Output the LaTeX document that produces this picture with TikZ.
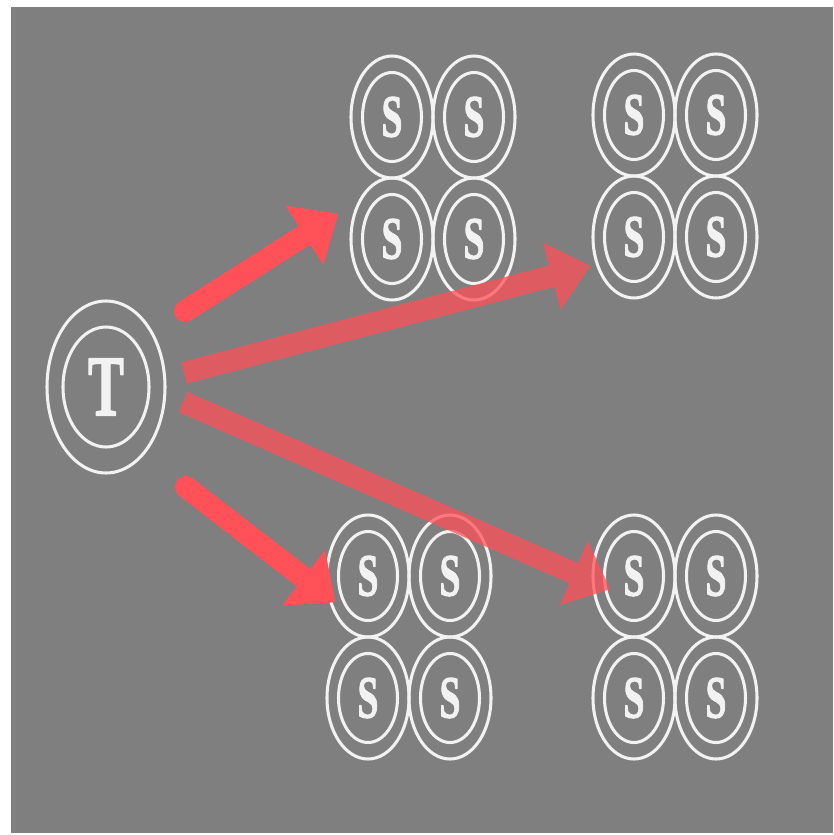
\documentclass[tikz,border=0pt]{standalone}
\usepackage{fontspec}
\setmainfont{Liberation Serif}
\newfontfamily\heavy{Liberation Serif Bold}[FakeBold=2]
\usetikzlibrary{arrows.meta,shapes.geometric}
\definecolor{board}{HTML}{7F7F7F}
\definecolor{ring}{HTML}{F2F2F2}
\definecolor{pointer}{HTML}{FF5157}
\newcommand\tall[1]{\scalebox{1}[1.6]{#1}}

\begin{document}
\begin{tikzpicture}[
  x=0.03cm, y=-0.03cm,
  line cap=round, line join=round,
  every node/.style={inner sep=0pt},
  seat/.style={ellipse, draw=ring, line width=2.6pt, minimum width=1.77cm, minimum height=2.67cm,
    text=ring, font=\heavy\fontsize{32}{32}\selectfont},
  halo/.style={draw=ring, line width=2.6pt},
  pointer/.style={draw=pointer, line width=0.66cm,
    -{Triangle[length=1.2cm, width=2.1cm, line width'=1pt, round]}},
]
\fill[white] (0,0) rectangle (833,835);
\fill[board] (11,7) rectangle (833,833);
\useasboundingbox (0,0) rectangle (833,835);

\node[seat, minimum width=2.58cm, minimum height=3.6cm, font=\heavy\fontsize{46}{46}\selectfont] (tx) at (106,387) {\tall{T}};
\draw[halo] (tx) ellipse [x radius=1.77cm, y radius=2.58cm];

\foreach \grp/\cx/\cy in {a/392/117, b/634/115, c/368/576, d/634/576} {
  \foreach \col/\dx in {1/0, 2/82} {
    \foreach \row/\dy in {1/0, 2/122} {
      \node[seat] (\grp\row\col) at (\cx+\dx,\cy+\dy) {\tall{S}};
      \draw[halo] (\grp\row\col) ellipse [x radius=1.23cm, y radius=1.83cm];
    }
  }
}

\coordinate (from1) at (185,311);
\coordinate (to1) at (338,214);
\coordinate (from2) at (186,487);
\coordinate (to2) at (335,602);
\coordinate (from3) at (184,373);
\coordinate (to3) at (590,266);
\coordinate (from4) at (183,402);
\coordinate (to4) at (610,589);

\draw[pointer] (from1) -- (to1);
\draw[pointer] (from2) -- (to2);
\begin{scope}[transparency group, opacity=0.75]
\draw[pointer] (from3) -- (to3);
\draw[pointer] (from4) -- (to4);
\end{scope}
\end{tikzpicture}
\end{document}
